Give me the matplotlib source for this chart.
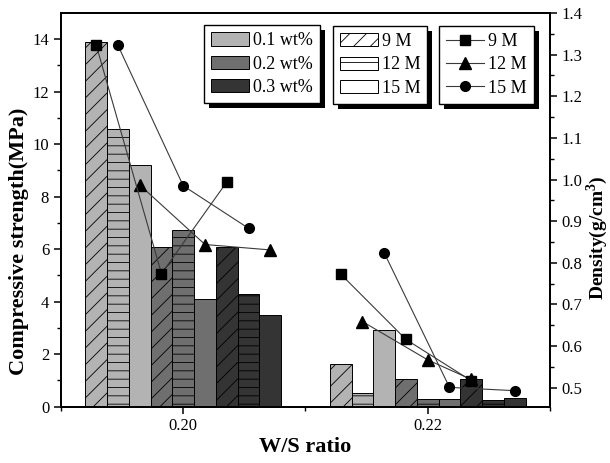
import numpy as np
import matplotlib
matplotlib.use("Agg")
import matplotlib.pyplot as plt
from matplotlib.patches import Patch, Rectangle
from matplotlib.lines import Line2D
from matplotlib.transforms import IdentityTransform

plt.rcParams['font.family'] = ['Liberation Serif', 'DejaVu Serif']
plt.rcParams['hatch.linewidth'] = 0.6
plt.rcParams['mathtext.fontset'] = 'custom'
plt.rcParams['mathtext.rm'] = 'Liberation Serif'
plt.rcParams['mathtext.bf'] = 'Liberation Serif:bold'

# DATA
ws_ratio   = [0.20, 0.22]
wt_labels  = ["0.1 wt%", "0.2 wt%", "0.3 wt%"]
m_labels   = ["9 M", "12 M", "15 M"]

# compressive strength (MPa), rows = wt%, cols = 9 M, 12 M, 15 M
strength_020 = [[13.9, 10.57, 9.19],
                [6.08, 6.73, 4.11],
                [6.07, 4.30, 3.49]]
strength_022 = [[1.63, 0.51, 2.92],
                [1.03, 0.28, 0.28],
                [1.03, 0.23, 0.32]]

# density (g/cm3) for each molarity, one value per wt%
dens_9M_020  = [1.323, 0.774, 0.994]
dens_12M_020 = [0.987, 0.844, 0.831]
dens_15M_020 = [1.322, 0.985, 0.883]
dens_9M_022  = [0.773, 0.616, 0.517]
dens_12M_022 = [0.659, 0.567, 0.520]
dens_15M_022 = [0.824, 0.501, 0.493]

# which bar (0..8) of each group the density point sits over
slot_9M_020  = [0, 3, 6]
slot_12M_020 = [2, 5, 8]
slot_15M_020 = [1, 4, 7]
slot_9M_022  = [0, 3, 6]
slot_12M_022 = [1, 4, 6]
slot_15M_022 = [2, 5, 8]

wt_colors = ["#b3b3b3", "#6f6f6f", "#343434"]
m_hatches = ["//", "--", ""]

bw = 0.00178

fig = plt.figure(figsize=(6.10, 4.63), dpi=100)
ax = fig.add_axes([0.1, 0.122, 0.8016, 0.850])
ax2 = ax.twinx()

def slot_x(center, slot):
    return center + (slot - 4) * bw

for center, strength in zip(ws_ratio, [strength_020, strength_022]):
    for i in range(3):
        for j in range(3):
            ax.bar(slot_x(center, 3 * i + j), strength[i][j], width=bw,
                   color=wt_colors[i], edgecolor="black", linewidth=0.7,
                   hatch=m_hatches[j], zorder=2)

lc = "#3a3a3a"
series = [
    (dens_12M_020, slot_12M_020, dens_12M_022, slot_12M_022, "^", 8),
    (dens_15M_020, slot_15M_020, dens_15M_022, slot_15M_022, "o", 7),
    (dens_9M_020, slot_9M_020, dens_9M_022, slot_9M_022, "s", 6.5),
]
for d20, s20, d22, s22, mk, ms in series:
    for center, d, s in [(0.20, d20, s20), (0.22, d22, s22)]:
        xs = [slot_x(center, k) for k in s]
        ax2.plot(xs, d, color=lc, lw=0.8, marker=mk, ms=ms,
                 mfc="black", mec="black", zorder=3)

ax.set_xlim(0.19, 0.23)
ax.set_ylim(0, 15)
ax2.set_ylim(0.455, 1.4)

ax.set_xticks(ws_ratio)
ax.set_xticklabels(["0.20", "0.22"])
ax.set_xticks([0.19, 0.21, 0.23], minor=True)
ax.set_yticks(np.arange(0, 15, 2))
ax.set_yticks(np.arange(1, 15, 2), minor=True)
ax2.set_yticks(np.round(np.arange(0.5, 1.41, 0.1), 2))
ax2.set_yticks(np.round(np.arange(0.55, 1.4, 0.1), 2), minor=True)
ax2.set_yticklabels([f"{v:.1f}" for v in np.arange(0.5, 1.41, 0.1)])

for a in (ax, ax2):
    a.tick_params(which="major", direction="out", length=5, width=1.1, labelsize=12)
    a.tick_params(which="minor", direction="out", length=3, width=1.0)
    for sp in a.spines.values():
        sp.set_linewidth(1.3)

ax.set_xlabel("W/S ratio", fontsize=16, fontweight="bold", labelpad=2)
ax.set_ylabel("Compressive strength(MPa)", fontsize=16, fontweight="bold")
ax.yaxis.set_label_coords(-0.066, 0.42)
ax2.set_ylabel(r"Density(g/cm$^{\mathbf{3}}$)", fontsize=14, fontweight="bold")
ax2.yaxis.set_label_coords(1.07, 0.43)

leg_kw = dict(loc="upper left", fontsize=13, frameon=True, fancybox=False,
              edgecolor="black", framealpha=1, borderaxespad=0,
              handlelength=2.1, handleheight=0.75, handletextpad=0.2,
              labelspacing=0.35, borderpad=0.4)

h1 = [Patch(facecolor=c, edgecolor="black", linewidth=0.7) for c in wt_colors]
h2 = [Patch(facecolor="white", edgecolor="black", linewidth=0.7, hatch=h) for h in m_hatches]
h3 = [Line2D([], [], color=lc, lw=0.8, marker=m, ms=s, mfc="black", mec="black")
      for m, s in [("s", 6.5), ("^", 8), ("o", 7)]]

leg1 = ax2.legend(h1, wt_labels, bbox_to_anchor=(0.292, 0.9695), **leg_kw)
ax2.add_artist(leg1)
leg2 = ax2.legend(h2, m_labels, bbox_to_anchor=(0.556, 0.967), **leg_kw)
ax2.add_artist(leg2)
leg3 = ax2.legend(h3, m_labels, bbox_to_anchor=(0.773, 0.967), **leg_kw)
for lg in (leg1, leg2, leg3):
    lg.get_frame().set_linewidth(1.0)
    lg.set_zorder(6)

# black drop shadows behind legend boxes
fig.canvas.draw()
for lg in (leg1, leg2, leg3):
    bb = lg.get_window_extent()
    ax2.add_patch(Rectangle((bb.x0 + 5, bb.y0 - 5), bb.width, bb.height,
                            facecolor="black", edgecolor="none",
                            transform=IdentityTransform(), clip_on=False, zorder=5.5))

fig.savefig("out.png", dpi=100)
